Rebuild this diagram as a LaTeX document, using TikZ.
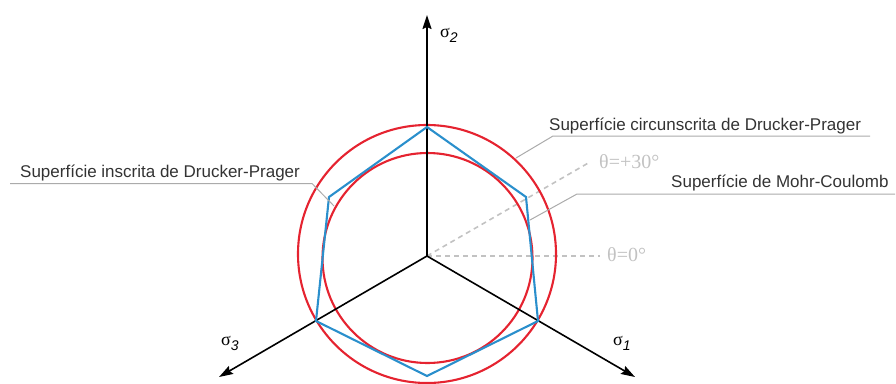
\documentclass[tikz,border=0pt]{standalone}
\usepackage{fontspec}
\setmainfont{Liberation Sans}
\newfontfamily\serifgr{Liberation Serif}
\usetikzlibrary{arrows.meta,calc}
\definecolor{mcred}{HTML}{E52330}
\definecolor{mcblue}{HTML}{2A8FCC}
\definecolor{txtgray}{HTML}{333333}
\definecolor{leadgray}{HTML}{ABABAB}
\definecolor{dashgray}{HTML}{C2C2C2}
\newcommand{\mysig}[1]{{\serifgr\fontsize{18}{18}\selectfont σ}\raisebox{-5pt}{\fontsize{14}{14}\selectfont\itshape #1}}
\begin{document}
\begin{tikzpicture}[x=1pt,y=-1pt,
  axisline/.style={line width=1.6pt,black,-{Stealth[length=14pt,width=9pt,inset=2pt]}},
  redcirc/.style={line width=2.1pt,mcred},
  hexline/.style={line width=2.1pt,mcblue,line join=miter},
  dashline/.style={line width=1.6pt,dashgray,dash pattern=on 5pt off 4pt},
  leader/.style={line width=1pt,leadgray},
  lbl/.style={anchor=base west,inner sep=0pt,text=txtgray,font=\fontsize{17}{17}\selectfont},
  thlbl/.style={anchor=base west,inner sep=0pt,text=dashgray,font=\serifgr\fontsize{20}{20}\selectfont},
  siglbl/.style={anchor=base west,inner sep=0pt}]
\useasboundingbox (0,0) rectangle (896,383);
% centre and axis ends
\coordinate (O) at (427,256);
\coordinate (s2) at (427,15);
\coordinate (s1) at (635,377);
\coordinate (s3) at (219,377);
% dashed theta lines
\coordinate (t30) at (590,162);
\coordinate (t0) at (600,256);
\draw[dashline] (O) -- (t30);
\draw[dashline] (O) -- (t0);
\node[thlbl] (th30) at (599,168) {θ=+30°};
\node[thlbl] (th0) at (607,261) {θ=0°};
% Drucker-Prager circles
\coordinate (cOut) at (427,254);
\coordinate (cIn) at (427.5,258);
\draw[redcirc] (cOut) circle[radius=129];
\draw[redcirc] (cIn) circle[radius=105];
% axes
\draw[axisline] (O) -- (s2);
\draw[axisline] (O) -- (s1);
\draw[axisline] (O) -- (s3);
\node[siglbl] (ls2) at (440,37) {\mysig{2}};
\node[siglbl] (ls1) at (613,345) {\mysig{1}};
\node[siglbl] (ls3) at (221,345) {\mysig{3}};
% Mohr-Coulomb hexagon
\coordinate (h1) at (427,127);
\coordinate (h2) at (526,197);
\coordinate (h3) at (538,321);
\coordinate (h4) at (427,376);
\coordinate (h5) at (316,321);
\coordinate (h6) at (329,197);
\draw[hexline] (h1) -- (h2) -- (h3) -- (h4) -- (h5) -- (h6) -- cycle;
% labels and leaders
\node[lbl] (lin) at (20,177.5) {Superfície inscrita de Drucker-Prager};
\coordinate (inA) at (10,183.5);
\coordinate (inB) at (312,183.5);
\coordinate (inC) at (334,206);
\draw[leader] (inA) -- (inB) -- (inC);
\node[lbl] (lcirc) at (549,130) {Superfície circunscrita de Drucker-Prager};
\coordinate (ciA) at (870,136);
\coordinate (ciB) at (553,136);
\coordinate (ciC) at (516,158);
\draw[leader] (ciA) -- (ciB) -- (ciC);
\node[lbl] (lmc) at (671,187.5) {Superfície de Mohr-Coulomb};
\coordinate (mcA) at (895,194);
\coordinate (mcB) at (577,194);
\coordinate (mcC) at (530,220);
\draw[leader] (mcA) -- (mcB) -- (mcC);
\end{tikzpicture}
\end{document}
